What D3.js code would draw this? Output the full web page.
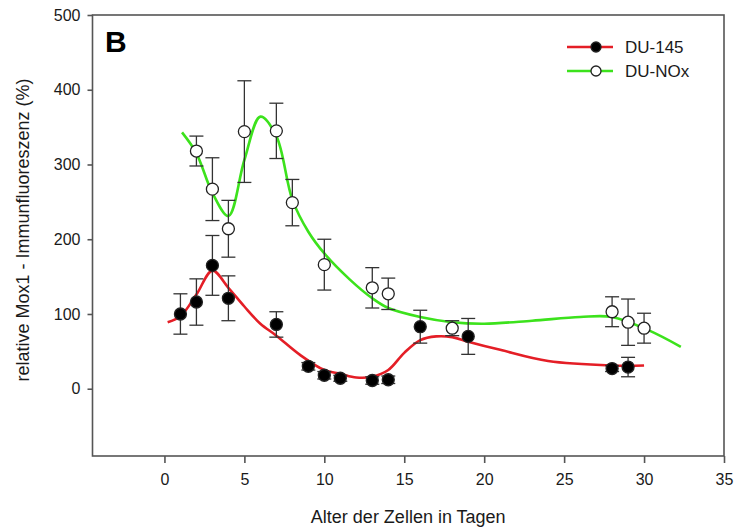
<!DOCTYPE html>
<html><head><meta charset="utf-8">
<script src="https://cdn.jsdelivr.net/npm/d3@7"></script>
<style>body{margin:0;background:#fff;}svg{display:block;font-family:"Liberation Sans",Arial,sans-serif;}</style>
</head><body><svg id="c" width="734" height="530"></svg>
<script>
// Data
const du145Days = [1,2,3,4,7,9,10,11,13,14,16,19,28,29];
const du145Mean = [100,116,165,121,86,30,18,14,11,12,83,70,27,29];
const du145Err  = [27,31,40,30,17,5,5,4,5,5,22,24,4,13];

const duNOxDays = [2,3,4,5,7,8,10,13,14,18,28,29,30];
const duNOxMean = [318,267,214,344,345,249,166,135,127,81,103,89,81];
const duNOxErr  = [20,42,38,68,37,31,34,27,21,10,20,31,20];

const fit145X = [0.2,1,2,3,4,5,6,7,8.5,10,11,12,13,14,15,16,17,18,19,21,24,28,30];
const fit145Y = [89,97,126,158,135,110,87,71,45,25,20,15,16,25,48,65,70,69,63,52,37,31,31];

const fitNOxX = [1.1,2,3,4,5,6,7,8,9,10,11.6,13,14,16,18,20,23,26,28,30.3,32.3];
const fitNOxY = [343,315,262,231,306,364,338,253,210,181,146,121,108,96,89,87,91,96,96,78,56];

const xTicks = [0,5,10,15,20,25,30,35];
const yTicks = [0,100,200,300,400,500];

const seriesNames = ["DU-145","DU-NOx"];
const xTitle = "Alter der Zellen in Tagen";
const yTitle = "relative Mox1 - Immunfluoreszenz (%)";
const panelLabel = "B";

const svg = d3.select("#c");
const L = 92.5, R = 724, T = 15, B = 456;
const x = d3.scaleLinear().domain([-4.5,35]).range([L,R]);
const y = d3.scaleLinear().domain([-90,500]).range([B,T]);
const frameCol = "#555", textCol = "#1a1a1a";
const red = "#e41e26", green = "#3ce21c";

// frame
svg.append("rect").attr("x",L).attr("y",T).attr("width",R-L).attr("height",B-T)
  .attr("fill","none").attr("stroke",frameCol).attr("stroke-width",1.6);

// axes
const gx = svg.append("g").attr("transform",`translate(0,${B})`)
  .call(d3.axisBottom(x).tickValues(xTicks).tickSize(7).tickPadding(11).tickFormat(d3.format("d")));
const gy = svg.append("g").attr("transform",`translate(${L},0)`)
  .call(d3.axisLeft(y).tickValues(yTicks).tickSize(5).tickPadding(7).tickFormat(d3.format("d")));
[gx,gy].forEach(g=>{
  g.select(".domain").remove();
  g.selectAll(".tick line").attr("stroke",frameCol).attr("stroke-width",1.6);
  g.selectAll(".tick text").attr("fill",textCol).style("font-size","16px");
});

// titles
svg.append("text").attr("x",(L+R)/2).attr("y",523).attr("text-anchor","middle")
  .attr("fill",textCol).style("font-size","18px").text(xTitle);
svg.append("text").attr("transform","translate(29,230) rotate(-90)").attr("text-anchor","middle")
  .attr("fill",textCol).style("font-size","18px").text(yTitle);
svg.append("text").attr("x",105).attr("y",52).attr("fill","#000")
  .style("font-size","30px").style("font-weight","bold").text(panelLabel);

// fitted curves
const line = d3.line().x(d=>x(d[0])).y(d=>y(d[1])).curve(d3.curveCatmullRom.alpha(0.5));
svg.append("path").datum(d3.zip(fitNOxX,fitNOxY)).attr("d",line)
  .attr("fill","none").attr("stroke",green).attr("stroke-width",2.6);
svg.append("path").datum(d3.zip(fit145X,fit145Y)).attr("d",line)
  .attr("fill","none").attr("stroke",red).attr("stroke-width",2.6);

// error bars & points
function drawSeries(days, mean, err, filled){
  const g = svg.append("g");
  const data = days.map((d,i)=>({d, m:mean[i], e:err[i]}));
  const eb = g.selectAll("g.eb").data(data).enter().append("g")
    .attr("stroke","#333").attr("stroke-width",1.3);
  eb.append("line").attr("x1",p=>x(p.d)).attr("x2",p=>x(p.d))
    .attr("y1",p=>y(p.m+p.e)).attr("y2",p=>y(p.m-p.e));
  eb.append("line").attr("x1",p=>x(p.d)-7).attr("x2",p=>x(p.d)+7)
    .attr("y1",p=>y(p.m+p.e)).attr("y2",p=>y(p.m+p.e));
  eb.append("line").attr("x1",p=>x(p.d)-7).attr("x2",p=>x(p.d)+7)
    .attr("y1",p=>y(p.m-p.e)).attr("y2",p=>y(p.m-p.e));
  g.selectAll("circle").data(data).enter().append("circle")
    .attr("cx",p=>x(p.d)).attr("cy",p=>y(p.m)).attr("r",6)
    .attr("fill",filled?"#000":"#fff").attr("stroke","#222").attr("stroke-width",1.3);
}
drawSeries(duNOxDays,duNOxMean,duNOxErr,false);
drawSeries(du145Days,du145Mean,du145Err,true);

// legend
const leg = [{name:seriesNames[0],col:red,filled:true,y:47},{name:seriesNames[1],col:green,filled:false,y:71}];
leg.forEach(l=>{
  svg.append("line").attr("x1",567).attr("x2",613).attr("y1",l.y).attr("y2",l.y)
    .attr("stroke",l.col).attr("stroke-width",2.6);
  svg.append("circle").attr("cx",596).attr("cy",l.y).attr("r",5)
    .attr("fill",l.filled?"#000":"#fff").attr("stroke","#222").attr("stroke-width",1.3);
  svg.append("text").attr("x",625).attr("y",l.y+6).attr("fill",textCol)
    .style("font-size","17px").text(l.name);
});
</script></body></html>
